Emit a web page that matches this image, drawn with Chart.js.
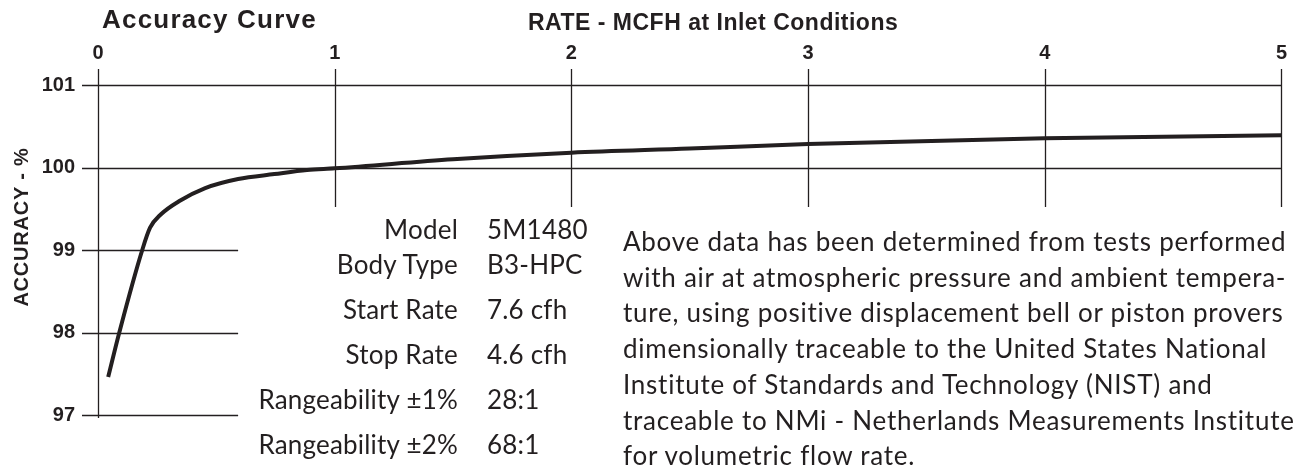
<!DOCTYPE html>
<html>
<head>
<meta charset="utf-8">
<script src="https://cdn.jsdelivr.net/npm/chart.js@4.4.1/dist/chart.umd.min.js"></script>
<style>
  html, body { margin: 0; padding: 0; background: #fff; }
  #wrap { position: relative; width: 1307px; height: 466px; overflow: hidden; color: #231f20; }
  #accuracyChart { position: absolute; left: 0; top: 0; }
  .bold { position: absolute; font-family: "Liberation Sans", Arial, sans-serif; font-weight: bold; line-height: 1; white-space: nowrap; }
  .gill { position: absolute; font-family: Lato, "Open Sans", sans-serif; font-size: 26px; line-height: 1; white-space: nowrap; letter-spacing: 0.2px; }
  .lbl { text-align: right; width: 260px; left: 198px; }
  .val { left: 487px; }
  #note { position: absolute; left: 623px; top: 224px; font-family: Lato, "Open Sans", sans-serif; font-size: 26px; line-height: 35.7px; letter-spacing: 0.75px; white-space: nowrap; }
</style>
</head>
<body>
<div id="wrap">
  <canvas id="accuracyChart" width="1307" height="466"></canvas>
  <div class="bold" style="left:102px; top:6px; font-size:26px; letter-spacing:1.2px;">Accuracy Curve</div>
  <div class="bold" style="left:528px; top:11px; font-size:23px; letter-spacing:0.5px;">RATE - MCFH at Inlet Conditions</div>
  <div class="bold" style="left:-79px; top:217px; width:200px; text-align:center; font-size:20px; letter-spacing:0.8px; transform:rotate(-90deg);">ACCURACY - %</div>

  <div class="gill lbl" style="top:216px;">Model</div><div class="gill val" style="top:216px;">5M1480</div>
  <div class="gill lbl" style="top:251px;">Body Type</div><div class="gill val" style="top:251px;">B3-HPC</div>
  <div class="gill lbl" style="top:296px;">Start Rate</div><div class="gill val" style="top:296px;">7.6 cfh</div>
  <div class="gill lbl" style="top:341px;">Stop Rate</div><div class="gill val" style="top:341px;">4.6 cfh</div>
  <div class="gill lbl" style="top:386px;">Rangeability ±1%</div><div class="gill val" style="top:386px;">28:1</div>
  <div class="gill lbl" style="top:431px;">Rangeability ±2%</div><div class="gill val" style="top:431px;">68:1</div>

  <div id="note">
    <div>Above data has been determined from tests performed</div>
    <div>with air at atmospheric pressure and ambient tempera-</div>
    <div>ture, using positive displacement bell or piston provers</div>
    <div>dimensionally traceable to the United States National</div>
    <div>Institute of Standards and Technology (NIST) and</div>
    <div>traceable to NMi - Netherlands Measurements Institute</div>
    <div>for volumetric flow rate.</div>
  </div>
</div>

<script>
// tick values on the two axes
const rateTicks = [0, 1, 2, 3, 4, 5];
const accuracyTicks = [97, 98, 99, 100, 101];

// accuracy curve (rate in MCFH, accuracy in %)
const rateValues = [0.043, 0.09, 0.187, 0.22, 0.265, 0.342, 0.453, 0.592, 0.745, 0.883, 1.0, 1.5, 2.0, 2.5, 3.0, 4.0, 5.0];
const accuracyValues = [97.46, 98.0, 99.0, 99.27, 99.43, 99.59, 99.75, 99.86, 99.92, 99.97, 99.99, 100.10, 100.18, 100.23, 100.285, 100.355, 100.39];

const ink = '#231f20';

// grid is drawn by hand: the lower lines stop short to leave room for the text block
const partialGrid = {
    id: 'partialGrid',
    beforeDatasetsDraw(chart) {
        const xs = chart.scales.x, ys = chart.scales.y;
        const c = chart.ctx;
        const tick = 16;
        c.save();
        c.strokeStyle = ink;
        c.lineWidth = 1.3;
        c.beginPath();
        rateTicks.forEach(v => {
            const px = Math.round(xs.getPixelForValue(v)) + 0.5;
            const yEnd = v === 0 ? ys.getPixelForValue(97) + 3 : ys.getPixelForValue(99.52);
            c.moveTo(px, ys.getPixelForValue(101) - tick);
            c.lineTo(px, yEnd);
        });
        accuracyTicks.forEach(v => {
            const py = Math.round(ys.getPixelForValue(v)) + 0.5;
            const xEnd = v >= 100 ? xs.getPixelForValue(5) : xs.getPixelForValue(0.592);
            c.moveTo(xs.getPixelForValue(0) - tick, py);
            c.lineTo(xEnd, py);
        });
        c.stroke();
        c.restore();
    }
};

const tickFont = { family: '"Liberation Sans", Arial, sans-serif', size: 20, weight: 'bold' };

new Chart(document.getElementById('accuracyChart'), {
    type: 'line',
    data: {
        datasets: [{
            data: rateValues.map((r, i) => ({ x: r, y: accuracyValues[i] })),
            borderColor: ink,
            borderWidth: 4,
            pointRadius: 0,
            cubicInterpolationMode: 'monotone',
            fill: false
        }]
    },
    options: {
        responsive: false,
        animation: false,
        layout: { padding: { left: 0, top: 0, right: 9, bottom: 51 } },
        plugins: { legend: { display: false }, tooltip: { enabled: false }, title: { display: false } },
        scales: {
            x: {
                type: 'linear',
                position: 'top',
                min: 0,
                max: 5,
                afterFit: s => { s.height = 85; },
                grid: { display: false, drawTicks: false },
                border: { display: false },
                ticks: { stepSize: 1, padding: 20, color: ink, font: tickFont }
            },
            y: {
                min: 97,
                max: 101,
                afterFit: s => { s.width = 98; },
                grid: { display: false, drawTicks: false },
                border: { display: false },
                ticks: { stepSize: 1, padding: 23, color: ink, font: tickFont }
            }
        }
    },
    plugins: [partialGrid]
});
</script>
</body>
</html>
